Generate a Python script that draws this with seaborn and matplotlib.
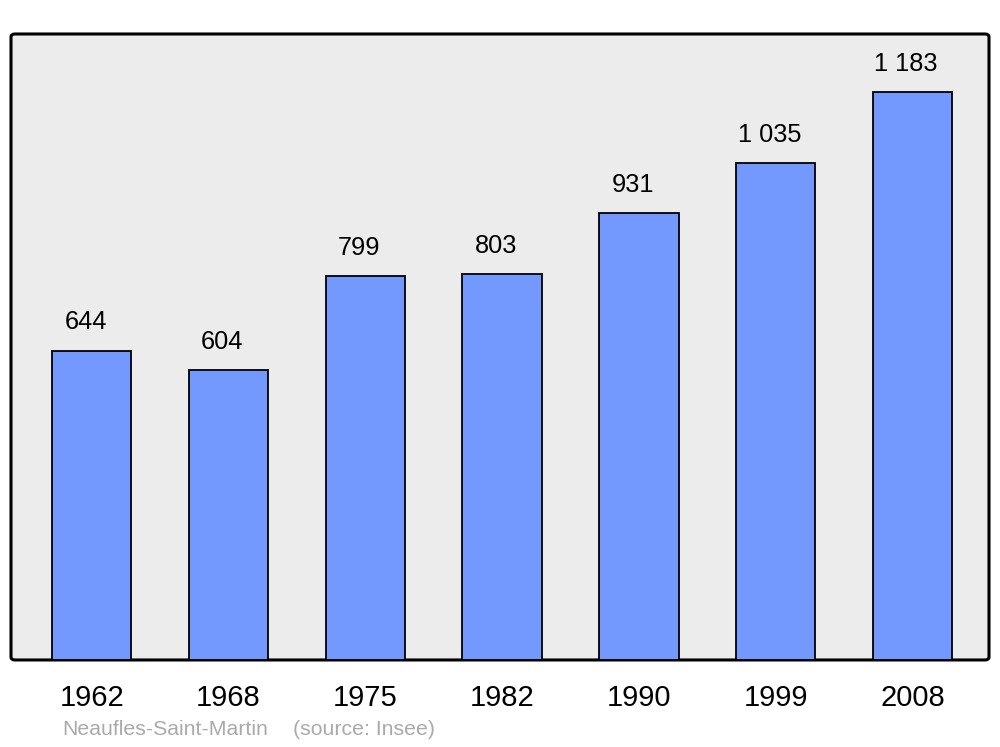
import matplotlib
matplotlib.use("Agg")
import matplotlib.pyplot as plt
import seaborn as sns
import pandas as pd
from matplotlib.patches import FancyBboxPatch

# --- data ---
years = ["1962", "1968", "1975", "1982", "1990", "1999", "2008"]
population = [644, 604, 799, 803, 931, 1035, 1183]
commune = "Neaufles-Saint-Martin"
source = "(source: Insee)"

BAR_COLOR = "#7399ff"
BG_COLOR = "#ececec"

sns.set_style("white")
plt.rcParams["font.family"] = ["Liberation Sans", "DejaVu Sans"]

df = pd.DataFrame({"year": years, "pop": population})

fig = plt.figure(figsize=(10, 7.47), dpi=100)
ax = fig.add_axes([0.011, 0.1165, 0.978, 0.838])
ax.set_facecolor("none")

# rounded frame behind the axes
frame = FancyBboxPatch((0.011, 0.1165), 0.978, 0.838,
                       boxstyle="round,pad=0,rounding_size=0.004",
                       transform=fig.transFigure, facecolor=BG_COLOR,
                       edgecolor="black", linewidth=2.2, zorder=-1)
fig.patches.append(frame)

sns.barplot(data=df, x="year", y="pop", order=years, color=BAR_COLOR,
            saturation=1, width=0.58, edgecolor="black", linewidth=1.3, ax=ax)

for i, v in enumerate(population):
    label = f"{v:,}".replace(",", " ")
    ax.annotate(label, (i, v), xytext=(-4.5, 20.5), textcoords="offset points",
                ha="center", va="center", fontsize=18.3, color="black")

ax.set_xlim(-0.59, 6.56)
ax.set_ylim(0, 1304)
ax.set_yticks([])
ax.set_xlabel("")
ax.set_ylabel("")
ax.tick_params(axis="x", length=0, pad=17, labelsize=21, labelcolor="black")
for s in ax.spines.values():
    s.set_visible(False)

fig.text(0.062, 0.023, commune, color="#aaaaaa", fontsize=15.3, va="center")
fig.text(0.293, 0.023, source, color="#aaaaaa", fontsize=15.3, va="center")

fig.savefig("out.png", dpi=100, facecolor="white")
